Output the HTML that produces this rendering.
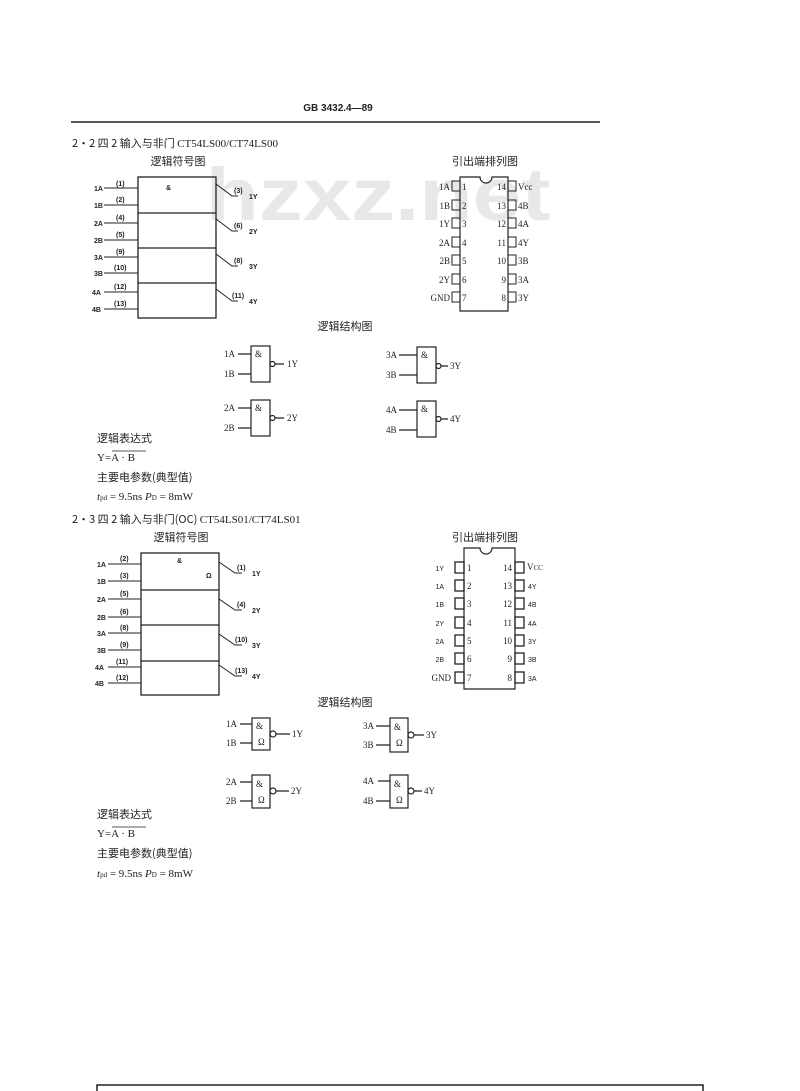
<!DOCTYPE html>
<html><head><meta charset="utf-8"><style>
html,body{margin:0;padding:0;background:#fff;}
svg{display:block;}
text{font-family:"Liberation Serif","Noto Serif CJK SC",serif;fill:#222;}
text.wm{font-family:"Liberation Sans","DejaVu Sans",sans-serif;font-weight:bold;fill:#e8e8e8;}
.s{font-family:"Liberation Sans","Noto Sans CJK SC",sans-serif;font-size:7px;font-weight:bold;}
.c{font-family:"Noto Sans CJK SC","WenQuanYi Zen Hei",sans-serif;font-size:11px;}
.p{font-size:9px;}
</style></head><body>
<svg width="800" height="1091" viewBox="0 0 800 1091" xmlns="http://www.w3.org/2000/svg" stroke="#222" fill="none">
<text x="378" y="220" font-size="74" text-anchor="middle" class="wm" stroke="none" textLength="345" lengthAdjust="spacingAndGlyphs">hzxz.net</text>
<g stroke="none">
<text x="338" y="111" text-anchor="middle" class="s" style="font-size:10px;font-weight:bold">GB 3432.4—89</text>
<text x="72" y="147" class="c">2·2  四 2 输入与非门  <tspan font-family="Liberation Serif">CT54LS00/CT74LS00</tspan></text>
<text x="178" y="165" class="c" text-anchor="middle">逻辑符号图</text>
<text x="485" y="165" class="c" text-anchor="middle">引出端排列图</text>
<text x="345" y="330" class="c" text-anchor="middle">逻辑结构图</text>
</g>
<line x1="71" y1="122" x2="600" y2="122" stroke-width="1.5"/>
<rect x="138" y="177" width="78" height="141" stroke-width="1.3"/>
<path d="M138 213H216M138 248H216M138 283H216" stroke-width="1.3"/>
<path d="M104 188H138M104 205H138M104 223H138M104 240H138M104 257H138M104 273H138M104 292H138M104 309H138" />
<path d="M216 184L232 196H238M216 219L232 231H238M216 254L232 266H238M216 289L232 301H238"/>
<g stroke="none" class="s">
<text x="94" y="191" class="s">1A</text><text x="94" y="208" class="s">1B</text>
<text x="94" y="226" class="s">2A</text><text x="94" y="243" class="s">2B</text>
<text x="94" y="260" class="s">3A</text><text x="94" y="276" class="s">3B</text>
<text x="92" y="295" class="s">4A</text><text x="92" y="312" class="s">4B</text>
<text x="116" y="186" class="s">(1)</text><text x="116" y="202" class="s">(2)</text>
<text x="116" y="220" class="s">(4)</text><text x="116" y="237" class="s">(5)</text>
<text x="116" y="254" class="s">(9)</text><text x="114" y="270" class="s">(10)</text>
<text x="114" y="289" class="s">(12)</text><text x="114" y="306" class="s">(13)</text>
<text x="166" y="190" class="s">&amp;</text>
<text x="234" y="193" class="s">(3)</text><text x="249" y="199" class="s">1Y</text>
<text x="234" y="228" class="s">(6)</text><text x="249" y="234" class="s">2Y</text>
<text x="234" y="263" class="s">(8)</text><text x="249" y="269" class="s">3Y</text>
<text x="232" y="298" class="s">(11)</text><text x="249" y="304" class="s">4Y</text>
</g>
<path d="M460 177H480A6 6 0 0 0 492 177H508V311H460Z" stroke-width="1.2"/>
<g stroke-width="1">
<rect x="452" y="181" width="8" height="10"/><rect x="452" y="200" width="8" height="10"/><rect x="452" y="218" width="8" height="10"/><rect x="452" y="237" width="8" height="10"/><rect x="452" y="255" width="8" height="10"/><rect x="452" y="274" width="8" height="10"/><rect x="452" y="292" width="8" height="10"/>
<rect x="508" y="181" width="8" height="10"/><rect x="508" y="200" width="8" height="10"/><rect x="508" y="218" width="8" height="10"/><rect x="508" y="237" width="8" height="10"/><rect x="508" y="255" width="8" height="10"/><rect x="508" y="274" width="8" height="10"/><rect x="508" y="292" width="8" height="10"/>
</g>
<g stroke="none" class="p">
<text x="450" y="190" text-anchor="end" class="p">1A</text><text x="450" y="209" text-anchor="end" class="p">1B</text><text x="450" y="227" text-anchor="end" class="p">1Y</text><text x="450" y="246" text-anchor="end" class="p">2A</text><text x="450" y="264" text-anchor="end" class="p">2B</text><text x="450" y="283" text-anchor="end" class="p">2Y</text><text x="450" y="301" text-anchor="end" class="p">GND</text>
<text x="462" y="190" class="p">1</text><text x="462" y="209" class="p">2</text><text x="462" y="227" class="p">3</text><text x="462" y="246" class="p">4</text><text x="462" y="264" class="p">5</text><text x="462" y="283" class="p">6</text><text x="462" y="301" class="p">7</text>
<text x="506" y="190" text-anchor="end" class="p">14</text><text x="506" y="209" text-anchor="end" class="p">13</text><text x="506" y="227" text-anchor="end" class="p">12</text><text x="506" y="246" text-anchor="end" class="p">11</text><text x="506" y="264" text-anchor="end" class="p">10</text><text x="506" y="283" text-anchor="end" class="p">9</text><text x="506" y="301" text-anchor="end" class="p">8</text>
<text x="518" y="190" class="p">Vcc</text><text x="518" y="209" class="p">4B</text><text x="518" y="227" class="p">4A</text><text x="518" y="246" class="p">4Y</text><text x="518" y="264" class="p">3B</text><text x="518" y="283" class="p">3A</text><text x="518" y="301" class="p">3Y</text>
</g>
<g stroke-width="1.2">
<rect x="251" y="346" width="19" height="36"/><circle cx="272.5" cy="364" r="2.5"/><path d="M275 364H284M238 354H251M238 374H251"/>
<rect x="417" y="347" width="19" height="36"/><circle cx="438.5" cy="366" r="2.5"/><path d="M441 366H448M399 355H417M399 375H417"/>
<rect x="251" y="400" width="19" height="36"/><circle cx="272.5" cy="418" r="2.5"/><path d="M275 418H284M238 408H251M238 428H251"/>
<rect x="417" y="401" width="19" height="36"/><circle cx="438.5" cy="419" r="2.5"/><path d="M441 419H448M399 410H417M399 430H417"/>
</g>
<g stroke="none" class="p">
<text x="224" y="357" class="p">1A</text><text x="224" y="377" class="p">1B</text><text x="255" y="357" class="p">&amp;</text><text x="287" y="367" class="p">1Y</text>
<text x="386" y="358" class="p">3A</text><text x="386" y="378" class="p">3B</text><text x="421" y="358" class="p">&amp;</text><text x="450" y="369" class="p">3Y</text>
<text x="224" y="411" class="p">2A</text><text x="224" y="431" class="p">2B</text><text x="255" y="411" class="p">&amp;</text><text x="287" y="421" class="p">2Y</text>
<text x="386" y="413" class="p">4A</text><text x="386" y="433" class="p">4B</text><text x="421" y="412" class="p">&amp;</text><text x="450" y="422" class="p">4Y</text>
</g>
<g stroke="none">
<text x="97" y="442" class="c">逻辑表达式</text>
<text x="97" y="461" font-size="11">Y=A · B</text>
<text x="97" y="481" class="c">主要电参数(典型值)</text>
<text x="97" y="500" font-size="11"><tspan font-style="italic">t</tspan><tspan font-size="7">pd</tspan> = 9.5ns       <tspan font-style="italic">P</tspan><tspan font-size="7">D</tspan> = 8mW</text>
</g>
<path d="M112 451H146" stroke-width="0.8"/>
<g stroke="none">
<text x="72" y="523" class="c">2·3  四 2 输入与非门(OC)  <tspan font-family="Liberation Serif">CT54LS01/CT74LS01</tspan></text>
<text x="181" y="541" class="c" text-anchor="middle">逻辑符号图</text>
<text x="485" y="541" class="c" text-anchor="middle">引出端排列图</text>
<text x="345" y="706" class="c" text-anchor="middle">逻辑结构图</text>
</g>
<rect x="141" y="553" width="78" height="142" stroke-width="1.3"/>
<path d="M141 590H219M141 625H219M141 661H219" stroke-width="1.3"/>
<path d="M108 564H141M108 581H141M108 599H141M108 617H141M108 633H141M108 650H141M108 667H141M108 683H141"/>
<path d="M219 562L235 573H242M219 599L235 610H242M219 634L235 645H242M219 665L235 676H242"/>
<g stroke="none">
<text x="97" y="567" class="s">1A</text><text x="97" y="584" class="s">1B</text>
<text x="97" y="602" class="s">2A</text><text x="97" y="620" class="s">2B</text>
<text x="97" y="636" class="s">3A</text><text x="97" y="653" class="s">3B</text>
<text x="95" y="670" class="s">4A</text><text x="95" y="686" class="s">4B</text>
<text x="120" y="561" class="s">(2)</text><text x="120" y="578" class="s">(3)</text>
<text x="120" y="596" class="s">(5)</text><text x="120" y="614" class="s">(6)</text>
<text x="120" y="630" class="s">(8)</text><text x="120" y="647" class="s">(9)</text>
<text x="116" y="664" class="s">(11)</text><text x="116" y="680" class="s">(12)</text>
<text x="177" y="563" class="s">&amp;</text><text x="206" y="578" class="s">Ω</text>
<text x="237" y="570" class="s">(1)</text><text x="252" y="576" class="s">1Y</text>
<text x="237" y="607" class="s">(4)</text><text x="252" y="613" class="s">2Y</text>
<text x="235" y="642" class="s">(10)</text><text x="252" y="648" class="s">3Y</text>
<text x="235" y="673" class="s">(13)</text><text x="252" y="679" class="s">4Y</text>
</g>
<path d="M464 548H480A6 6 0 0 0 492 548H515V689H464Z" stroke-width="1.2"/>
<g stroke-width="1.3">
<rect x="455" y="562" width="9" height="11"/><rect x="455" y="580" width="9" height="11"/><rect x="455" y="598" width="9" height="11"/><rect x="455" y="617" width="9" height="11"/><rect x="455" y="635" width="9" height="11"/><rect x="455" y="653" width="9" height="11"/><rect x="455" y="672" width="9" height="11"/>
<rect x="515" y="562" width="9" height="11"/><rect x="515" y="580" width="9" height="11"/><rect x="515" y="598" width="9" height="11"/><rect x="515" y="617" width="9" height="11"/><rect x="515" y="635" width="9" height="11"/><rect x="515" y="653" width="9" height="11"/><rect x="515" y="672" width="9" height="11"/>
</g>
<g stroke="none">
<text x="444" y="571" text-anchor="end" class="s" style="font-weight:normal">1Y</text><text x="444" y="589" text-anchor="end" class="s" style="font-weight:normal">1A</text><text x="444" y="607" text-anchor="end" class="s" style="font-weight:normal">1B</text><text x="444" y="626" text-anchor="end" class="s" style="font-weight:normal">2Y</text><text x="444" y="644" text-anchor="end" class="s" style="font-weight:normal">2A</text><text x="444" y="662" text-anchor="end" class="s" style="font-weight:normal">2B</text><text x="451" y="681" text-anchor="end" class="p">GND</text>
<text x="467" y="571" class="p">1</text><text x="467" y="589" class="p">2</text><text x="467" y="607" class="p">3</text><text x="467" y="626" class="p">4</text><text x="467" y="644" class="p">5</text><text x="467" y="662" class="p">6</text><text x="467" y="681" class="p">7</text>
<text x="512" y="571" text-anchor="end" class="p">14</text><text x="512" y="589" text-anchor="end" class="p">13</text><text x="512" y="607" text-anchor="end" class="p">12</text><text x="512" y="626" text-anchor="end" class="p">11</text><text x="512" y="644" text-anchor="end" class="p">10</text><text x="512" y="662" text-anchor="end" class="p">9</text><text x="512" y="681" text-anchor="end" class="p">8</text>
<text x="527" y="570" class="p">V<tspan font-size="7">CC</tspan></text><text x="528" y="589" class="s" style="font-weight:normal">4Y</text><text x="528" y="607" class="s" style="font-weight:normal">4B</text><text x="528" y="626" class="s" style="font-weight:normal">4A</text><text x="528" y="644" class="s" style="font-weight:normal">3Y</text><text x="528" y="662" class="s" style="font-weight:normal">3B</text><text x="528" y="681" class="s" style="font-weight:normal">3A</text>
</g>
<g stroke-width="1.2">
<rect x="252" y="718" width="18" height="32"/><circle cx="273" cy="734" r="3"/><path d="M276 734H290M240 724H252M240 743H252"/>
<rect x="390" y="718" width="18" height="34"/><circle cx="411" cy="735" r="3"/><path d="M414 735H424M376 726H390M376 745H390"/>
<rect x="252" y="775" width="18" height="33"/><circle cx="273" cy="791" r="3"/><path d="M276 791H289M240 782H252M240 801H252"/>
<rect x="390" y="775" width="18" height="33"/><circle cx="411" cy="791" r="3"/><path d="M414 791H422M378 781H390M376 801H390"/>
</g>
<g stroke="none" class="p">
<text x="226" y="727" class="p">1A</text><text x="226" y="746" class="p">1B</text><text x="256" y="729" class="p">&amp;</text><text x="258" y="745" class="p">Ω</text><text x="292" y="737" class="p">1Y</text>
<text x="363" y="729" class="p">3A</text><text x="363" y="748" class="p">3B</text><text x="394" y="730" class="p">&amp;</text><text x="396" y="746" class="p">Ω</text><text x="426" y="738" class="p">3Y</text>
<text x="226" y="785" class="p">2A</text><text x="226" y="804" class="p">2B</text><text x="256" y="787" class="p">&amp;</text><text x="258" y="803" class="p">Ω</text><text x="291" y="794" class="p">2Y</text>
<text x="363" y="784" class="p">4A</text><text x="363" y="804" class="p">4B</text><text x="394" y="787" class="p">&amp;</text><text x="396" y="803" class="p">Ω</text><text x="424" y="794" class="p">4Y</text>
</g>
<g stroke="none">
<text x="97" y="818" class="c">逻辑表达式</text>
<text x="97" y="837" font-size="11">Y=A · B</text>
<text x="97" y="857" class="c">主要电参数(典型值)</text>
<text x="97" y="877" font-size="11"><tspan font-style="italic">t</tspan><tspan font-size="7">pd</tspan> = 9.5ns       <tspan font-style="italic">P</tspan><tspan font-size="7">D</tspan> = 8mW</text>
</g>
<path d="M112 827H146" stroke-width="0.8"/>
<path d="M97 1091V1085H703V1091" stroke-width="1.5"/>
</svg>
</body></html>
